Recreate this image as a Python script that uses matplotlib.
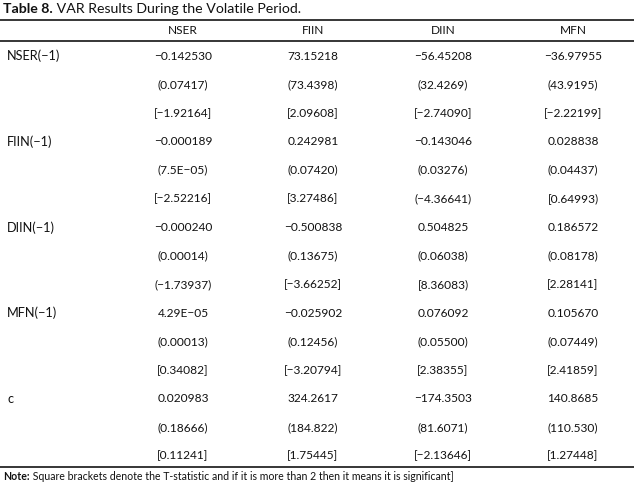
import matplotlib
matplotlib.use("Agg")
import matplotlib.pyplot as plt
from matplotlib.lines import Line2D

W, H = 634, 487

title_bold = "Table 8."
title_rest = " VAR Results During the Volatile Period."
columns = ["NSER", "FIIN", "DIIN", "MFN"]
row_labels = ["NSER(\u22121)", "FIIN(\u22121)", "DIIN(\u22121)", "MFN(\u22121)", "c"]

coef = [
    ["\u22120.142530", "73.15218", "\u221256.45208", "\u221236.97955"],
    ["\u22120.000189", "0.242981", "\u22120.143046", "0.028838"],
    ["\u22120.000240", "\u22120.500838", "0.504825", "0.186572"],
    ["4.29E\u221205", "\u22120.025902", "0.076092", "0.105670"],
    ["0.020983", "324.2617", "\u2212174.3503", "140.8685"],
]
stderr = [
    ["(0.07417)", "(73.4398)", "(32.4269)", "(43.9195)"],
    ["(7.5E\u221205)", "(0.07420)", "(0.03276)", "(0.04437)"],
    ["(0.00014)", "(0.13675)", "(0.06038)", "(0.08178)"],
    ["(0.00013)", "(0.12456)", "(0.05500)", "(0.07449)"],
    ["(0.18666)", "(184.822)", "(81.6071)", "(110.530)"],
]
tstat = [
    ["[\u22121.92164]", "[2.09608]", "[\u22122.74090]", "[\u22122.22199]"],
    ["[\u22122.52216]", "[3.27486]", "(\u22124.36641)", "[0.64993)"],
    ["(\u22121.73937)", "[\u22123.66252]", "[8.36083)", "[2.28141]"],
    ["[0.34082]", "[\u22123.20794]", "[2.38355]", "[2.41859]"],
    ["[0.11241]", "[1.75445]", "[\u22122.13646]", "[1.27448]"],
]
note_bold = "Note:"
note_rest = " Square brackets denote the T-statistic and if it is more than 2 then it means it is significant]"

plt.rcParams['font.family'] = ['Lato', 'DejaVu Sans']
fs = 8.6
ink = "#111111"

fig = plt.figure(figsize=(W / 100, H / 100), dpi=100)
fig.patch.set_facecolor("white")


def px(x, y):
    return x / W, 1 - y / H


def put(x, y, s, ha="left", weight="normal", size=fs):
    return fig.text(*px(x, y), s, ha=ha, va="center", fontsize=size,
                    fontweight=weight, color=ink)


def hline(y, lw=1.1):
    fig.add_artist(Line2D([0, 1], [1 - y / H] * 2, color="black", lw=lw,
                          transform=fig.transFigure))


# title
t = put(3, 9, title_bold, weight="bold", size=10.2)
fig.canvas.draw()
bb = t.get_window_extent()
put(bb.x1, 9, title_rest, size=10.2)

hline(20)
hline(41)
hline(467)

col_x = [183, 313, 443, 573]
for cx, name in zip(col_x, columns):
    put(cx, 31, name, ha="center")

y0, step = 56, 28.57
for i, lab in enumerate(row_labels):
    base = y0 + i * 3 * step
    put(7, base, lab, size=9.2)
    for j, cx in enumerate(col_x):
        put(cx, base, coef[i][j], ha="center")
        put(cx, base + step, stderr[i][j], ha="center")
        put(cx, base + 2 * step, tstat[i][j], ha="center")

n = put(3, 477, note_bold, weight="bold", size=7.6)
fig.canvas.draw()
bb = n.get_window_extent()
put(bb.x1, 477, note_rest, size=7.6)

fig.savefig("out.png", dpi=100, facecolor="white")
